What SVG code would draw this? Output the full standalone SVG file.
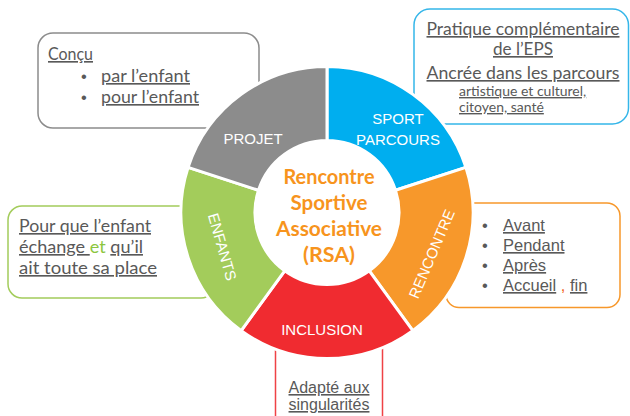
<svg xmlns="http://www.w3.org/2000/svg" width="630" height="416" viewBox="0 0 630 416">
<style>
.box{fill:#ffffff;stroke-width:1.5}
.bt{font-family:Lato,"Liberation Sans",sans-serif;font-size:16.5px;fill:#595959;text-decoration:underline}
.at{font-family:"Liberation Sans",Arial,sans-serif;font-size:16.5px;fill:#595959}
.u{text-decoration:underline}
.seg{stroke:#ffffff;stroke-width:3;stroke-linejoin:miter}
.lab{font-family:"Liberation Sans",Arial,sans-serif;font-size:15px;fill:#ffffff;text-anchor:middle}
.ctr{font-family:Lato,"Liberation Sans",sans-serif;font-size:20px;font-weight:bold;fill:#f7941d;text-anchor:middle}
</style>
<rect width="630" height="416" fill="#ffffff"/>

<g id="box-projet">
<rect class="box" x="38" y="33" width="221" height="95" rx="15" stroke="#8c8c8c"/>
<text class="bt" x="48" y="60" textLength="45" lengthAdjust="spacingAndGlyphs">Conçu</text>
<text class="at" x="81" y="82" fill="#7f7f7f">•</text>
<text class="bt" x="101" y="82" textLength="89" lengthAdjust="spacingAndGlyphs">par l’enfant</text>
<text class="at" x="81" y="103" fill="#7f7f7f">•</text>
<text class="bt" x="101" y="103" textLength="98" lengthAdjust="spacingAndGlyphs">pour l’enfant</text>
</g>

<g id="box-sport">
<rect class="box" x="414" y="9" width="214.5" height="115" rx="16" stroke="#35b6e9"/>
<text class="bt" x="523" y="35" text-anchor="middle" textLength="193" lengthAdjust="spacingAndGlyphs">Pratique complémentaire</text>
<text class="bt" x="523" y="55" text-anchor="middle" textLength="60" lengthAdjust="spacingAndGlyphs">de l’EPS</text>
<text class="bt" x="523" y="79" text-anchor="middle" textLength="193" lengthAdjust="spacingAndGlyphs">Ancrée dans les parcours</text>
<text class="bt" x="459" y="96" style="font-size:14px">artistique et culturel,</text>
<text class="bt" x="459" y="112" style="font-size:14px">citoyen, santé</text>
</g>

<g id="box-enfants">
<rect class="box" x="8" y="206" width="207" height="92" rx="14" stroke="#a3cc5b"/>
<text class="bt" x="19" y="232" textLength="132" lengthAdjust="spacingAndGlyphs">Pour que l’enfant</text>
<text x="19" y="253" style="font-family:Lato,'Liberation Sans',sans-serif;font-size:16.5px;fill:#595959" textLength="124" lengthAdjust="spacingAndGlyphs"><tspan class="u">échange </tspan><tspan fill="#8cc63f">et</tspan> <tspan class="u">qu’il</tspan></text>
<text class="bt" x="19" y="274" textLength="138" lengthAdjust="spacingAndGlyphs">ait toute sa place</text>
</g>

<g id="box-rencontre">
<rect class="box" x="446" y="203" width="174" height="104.5" rx="13" stroke="#f7982b"/>
<text class="at" x="482" y="231" fill="#f26522">•</text>
<text class="at u" x="503" y="231">Avant</text>
<text class="at" x="482" y="251" fill="#f26522">•</text>
<text class="at u" x="503" y="251">Pendant</text>
<text class="at" x="482" y="271" fill="#f26522">•</text>
<text class="at u" x="503" y="271">Après</text>
<text class="at" x="482" y="291" fill="#f26522">•</text>
<text class="at" x="503" y="291"><tspan class="u">Accueil</tspan> <tspan fill="#f26522">,</tspan> <tspan class="u">fin</tspan></text>
</g>

<g id="box-inclusion">
<rect class="box" x="275.5" y="290" width="107" height="150" rx="12" stroke="#ef4246"/>
<text class="at u" x="329" y="393" text-anchor="middle" style="font-size:16px">Adapté aux</text>
<text class="at u" x="329" y="410" text-anchor="middle" style="font-size:16px">singularités</text>
</g>

<g id="ring">
<g id="seg-sport">
<path class="seg" fill="#00aeef" d="M327,66.5 A146,146 0 0 1 465.9,167.4 L395.5,190.3 A72,72 0 0 0 327,140.5 Z"/>
<text class="lab" x="398" y="124">SPORT</text>
<text class="lab" x="398" y="145">PARCOURS</text>
</g>
<g id="seg-rencontre">
<path class="seg" fill="#f7982b" d="M465.9,167.4 A146,146 0 0 1 412.8,330.6 L369.3,270.8 A72,72 0 0 0 395.5,190.3 Z"/>
<text class="lab" transform="translate(432,254) rotate(-67)" x="0" y="5">RENCONTRE</text>
</g>
<g id="seg-inclusion">
<path class="seg" fill="#f02b30" d="M412.8,330.6 A146,146 0 0 1 241.2,330.6 L284.7,270.8 A72,72 0 0 0 369.3,270.8 Z"/>
<text class="lab" x="322" y="335">INCLUSION</text>
</g>
<g id="seg-enfants">
<path class="seg" fill="#a3cc5b" d="M241.2,330.6 A146,146 0 0 1 188.1,167.4 L258.5,190.3 A72,72 0 0 0 284.7,270.8 Z"/>
<text class="lab" transform="translate(222,247) rotate(74)" x="0" y="5">ENFANTS</text>
</g>
<g id="seg-projet">
<path class="seg" fill="#8c8c8c" d="M188.1,167.4 A146,146 0 0 1 327,66.5 L327,140.5 A72,72 0 0 0 258.5,190.3 Z"/>
<text class="lab" x="253" y="144">PROJET</text>
</g>
</g>

<g id="center">
<text class="ctr" x="329" y="184" textLength="91" lengthAdjust="spacingAndGlyphs">Rencontre</text>
<text class="ctr" x="329" y="210" textLength="77" lengthAdjust="spacingAndGlyphs">Sportive</text>
<text class="ctr" x="329" y="236" textLength="106" lengthAdjust="spacingAndGlyphs">Associative</text>
<text class="ctr" x="329" y="262" textLength="52" lengthAdjust="spacingAndGlyphs">(RSA)</text>
</g>

<g id="connectors"></g>
</svg>
